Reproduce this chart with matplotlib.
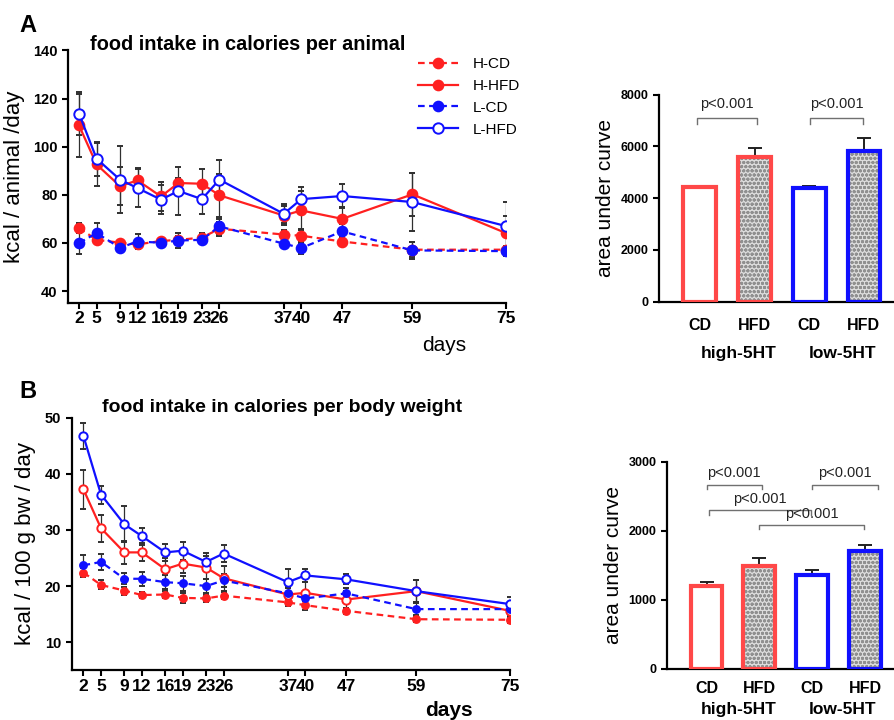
import numpy as np
import matplotlib
matplotlib.use('Agg')
from matplotlib import pyplot as plt
from matplotlib.lines import Line2D

plt.rcParams['font.family'] = ['Liberation Sans', 'DejaVu Sans']

RED = '#ff2020'
BLUE = '#1010ff'
BARRED = '#ff4848'

days = [2, 5, 9, 12, 16, 19, 23, 26, 37, 40, 47, 59, 75]

# panel A - kcal per animal per day
a_h_cd = [66.2, 61.3, 60.1, 59.4, 60.8, 61.3, 62.2, 65.9, 63.5, 63.0, 60.6, 57.2, 57.2]
a_h_cd_err = [2, 1.5, 1, 1.5, 1, 1.5, 2, 3, 2, 3, 2, 3, 1]
a_h_hfd = [108.8, 92.6, 83.6, 86.0, 79.3, 84.9, 84.6, 79.8, 71.4, 73.5, 70.0, 80.2, 64.1]
a_h_hfd_err = [13, 9, 8, 5, 6, 2, 6, 9, 4, 8, 5, 9, 7]
a_l_cd = [60.0, 64.1, 58.0, 60.6, 60.1, 61.0, 61.3, 66.9, 59.7, 57.9, 64.8, 56.9, 56.6]
a_l_cd_err = [4.5, 4, 1, 3, 1, 3, 1.5, 3, 2, 2.5, 3, 3.5, 2]
a_l_hfd = [113.7, 95.0, 86.3, 82.8, 78.0, 81.6, 78.2, 86.3, 72.1, 78.2, 79.5, 77.0, 67.0]
a_l_hfd_err = [9, 7, 14, 8, 6, 10, 6, 8, 4, 5, 5, 12, 10]

# panel B - kcal per 100 g body weight per day
b_h_cd = [22.4, 20.2, 19.2, 18.4, 18.5, 17.9, 17.8, 18.3, 17.1, 16.6, 15.6, 14.1, 14.0]
b_h_cd_err = [0.8, 0.8, 0.7, 0.6, 0.7, 0.9, 0.6, 0.6, 0.7, 0.8, 0.5, 0.5, 0.5]
b_h_hfd = [37.2, 30.3, 26.0, 26.0, 23.0, 24.0, 23.3, 21.4, 18.5, 18.8, 17.6, 19.1, 15.6]
b_h_hfd_err = [3.5, 2.4, 2.0, 1.6, 2.0, 1.7, 2.0, 2.2, 1.4, 2.0, 1.5, 1.9, 1.0]
b_l_cd = [23.7, 24.3, 21.3, 21.3, 20.7, 20.5, 20.0, 21.0, 18.7, 17.8, 18.7, 15.9, 15.9]
b_l_cd_err = [1.8, 1.4, 1.0, 1.2, 1.2, 1.3, 1.2, 1.2, 1.0, 1.0, 1.0, 1.0, 0.8]
b_l_hfd = [46.7, 36.3, 31.0, 28.9, 26.0, 26.3, 24.3, 25.8, 20.7, 21.9, 21.2, 19.1, 16.8]
b_l_hfd_err = [2.3, 1.6, 3.2, 1.5, 1.5, 1.6, 1.6, 1.6, 2.4, 1.1, 0.9, 1.9, 1.3]

# area under curve bars
bar_labels = ['CD', 'HFD', 'CD', 'HFD']
group_labels = ['high-5HT', 'low-5HT']
auc_a = [4440, 5600, 4380, 5810]
auc_a_err = [50, 340, 110, 510]
auc_b = [1206, 1495, 1365, 1712]
auc_b_err = [55, 110, 72, 82]
p_text = 'p<0.001'


def style_axes(ax):
    for s in ['top', 'right']:
        ax.spines[s].set_visible(False)
    for s in ['left', 'bottom']:
        ax.spines[s].set_linewidth(1.6)
    ax.tick_params(width=1.5, length=4, labelsize=10.5)
    for lab in ax.get_xticklabels() + ax.get_yticklabels():
        lab.set_fontweight('bold')


def line_panel(ax, series, ms_open, ms_fill):
    handles = []
    for y, err, color, ls, filled, name in series:
        kw = dict(color=color, lw=1.6, marker='o', ms=ms_fill if filled else ms_open,
                  mfc=color if filled else 'white', mec=color, mew=1.4)
        if ls == '--':
            kw['dashes'] = (3, 2)
        ax.errorbar(days, y, yerr=err, ecolor='#303030', elinewidth=0.9,
                    capsize=2.5, capthick=0.9, **kw)
        handles.append(Line2D([], [], label=name, **kw))
    ax.set_xticks(days)
    style_axes(ax)
    ax.tick_params(axis='x', labelsize=12.5, pad=2)
    return handles


def bar_panel(ax, vals, errs, ymax, step, pad):
    x = np.arange(4)
    cols = [BARRED, BARRED, BLUE, BLUE]
    ax.errorbar(x, vals, yerr=[np.zeros(4), errs], fmt='none', ecolor='#202020',
                elinewidth=1.4, capsize=5, capthick=1.4, zorder=1)
    for i in x:
        if bar_labels[i] == 'HFD':
            ax.bar(i, vals[i], 0.6, color='#dcdcdc', hatch='oooo', edgecolor='#909090',
                   lw=0, zorder=2)
        else:
            ax.bar(i, vals[i], 0.6, color='white', zorder=2)
        ax.bar(i, vals[i], 0.6, fill=False, edgecolor=cols[i], lw=3, zorder=3)
    ax.set_xlim(-0.75, 3.55)
    ax.set_ylim(0, ymax)
    ax.set_yticks(np.arange(0, ymax + 1, step))
    ax.set_xticks(x)
    ax.set_xticklabels(bar_labels)
    style_axes(ax)
    ax.tick_params(axis='x', length=0, pad=pad, labelsize=11.5)
    ax.tick_params(axis='y', labelsize=9)
    ax.set_ylabel('area under curve', fontsize=15, labelpad=4)


def bracket(ax, x0, x1, y, drop, ty):
    ax.plot([x0, x0, x1, x1], [y - drop, y, y, y - drop], color='#707070', lw=1, clip_on=False)
    ax.text((x0 + x1) / 2, ty, p_text, ha='center', va='bottom', fontsize=10.5, color='#222222')


fig = plt.figure(figsize=(8.94, 7.2), dpi=100)

# ---- panel A lines ----
ax1 = fig.add_axes([0.076, 0.579, 0.49, 0.351])
hnd = line_panel(ax1, [
    (a_h_cd, a_h_cd_err, RED, '--', True, 'H-CD'),
    (a_h_hfd, a_h_hfd_err, RED, '-', True, 'H-HFD'),
    (a_l_cd, a_l_cd_err, BLUE, '--', True, 'L-CD'),
    (a_l_hfd, a_l_hfd_err, BLUE, '-', False, 'L-HFD'),
], 7.5, 7)
ax1.set_xlim(0.1, 75)
ax1.set_ylim(35, 140)
ax1.set_yticks([40, 60, 80, 100, 120, 140])
ax1.set_ylabel('kcal / animal /day', fontsize=16, labelpad=6)
ax1.text(0.91, -0.13, 'days', transform=ax1.transAxes, ha='right', va='top', fontsize=15)
ax1.set_title('food intake in calories per animal', fontsize=14.3, fontweight='bold',
              loc='left', x=0.05, y=0.97)
fig.legend(handles=hnd, loc='upper left', bbox_to_anchor=(0.452, 0.94), frameon=False,
           fontsize=11, handlelength=2.6, handletextpad=1.0, labelspacing=0.52)

# ---- panel B lines ----
ax2 = fig.add_axes([0.080, 0.069, 0.49, 0.351])
line_panel(ax2, [
    (b_h_cd, b_h_cd_err, RED, '--', True, 'H-CD'),
    (b_h_hfd, b_h_hfd_err, RED, '-', False, 'H-HFD'),
    (b_l_cd, b_l_cd_err, BLUE, '--', True, 'L-CD'),
    (b_l_hfd, b_l_hfd_err, BLUE, '-', False, 'L-HFD'),
], 6, 5)
ax2.set_xlim(-0.05, 75)
ax2.set_ylim(5, 50)
ax2.set_yticks([10, 20, 30, 40, 50])
ax2.set_ylabel('kcal / 100 g bw / day', fontsize=16, labelpad=6)
ax2.text(0.915, -0.12, 'days', transform=ax2.transAxes, ha='right', va='top', fontsize=15,
         fontweight='bold')
ax2.set_title('food intake in calories per body weight', fontsize=14, fontweight='bold',
              loc='left', x=0.07, y=0.99)

# ---- bar panels ----
ax3 = fig.add_axes([0.737, 0.581, 0.263, 0.2875])
bar_panel(ax3, auc_a, auc_a_err, 8000, 2000, 12)
bracket(ax3, -0.05, 1.05, 7100, 250, 7350)
bracket(ax3, 2.02, 2.98, 7100, 250, 7350)

ax4 = fig.add_axes([0.746, 0.071, 0.254, 0.2875])
bar_panel(ax4, auc_b, auc_b_err, 3000, 1000, 9)
bracket(ax4, 0.0, 1.05, 2668, 60, 2740)
bracket(ax4, 2.0, 3.25, 2668, 60, 2740)
bracket(ax4, 0.04, 1.98, 2296, 60, 2360)
bracket(ax4, 1.0, 2.98, 2089, 60, 2150)

for yy in [0.503, 0.009]:
    fig.text(0.826, yy, group_labels[0], ha='center', fontsize=12.5, fontweight='bold')
    fig.text(0.943, yy, group_labels[1], ha='center', fontsize=12.5, fontweight='bold')

fig.text(0.022, 0.955, 'A', fontsize=17, fontweight='bold')
fig.text(0.022, 0.447, 'B', fontsize=17, fontweight='bold')

fig.savefig('out.png', dpi=100)
